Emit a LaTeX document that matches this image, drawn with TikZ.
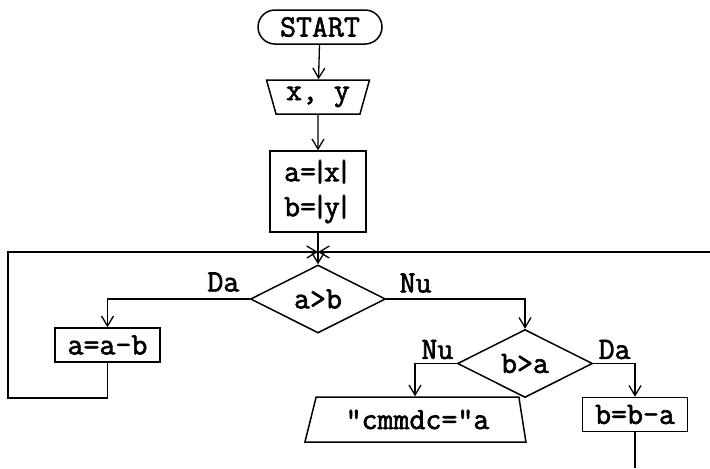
\documentclass[tikz,border=0pt]{standalone}
\usepackage{fontspec}
\newfontfamily\flowfont[FakeBold=2]{Latin Modern Mono}
\usetikzlibrary{shapes.geometric, shapes.misc, arrows.meta, positioning, calc}
\newcommand{\absv}[1]{\kern-2pt|\kern-2pt#1\kern-2pt|}
\tikzset{
  base/.style={draw, line width=0.75pt, inner sep=0pt, font=\flowfont\fontsize{15.5}{17.5}\selectfont},
  term/.style={base, rounded rectangle, minimum width=62pt, minimum height=17pt},
  inbox/.style={base, trapezium, shape border rotate=180, trapezium left angle=65, trapezium right angle=65,
    trapezium stretches body, minimum width=51.5pt, minimum height=17pt},
  outbox/.style={base, trapezium, trapezium left angle=60, trapezium right angle=70,
    trapezium stretches body, minimum width=110.5pt, minimum height=22.5pt},
  proc/.style={base, rectangle, minimum width=52.5pt, minimum height=17pt},
  decision/.style={base, diamond, aspect=2, minimum width=67.5pt, minimum height=34pt},
  lbl/.style={inner sep=0pt, font=\flowfont\fontsize{15.5}{16}\selectfont},
  flow/.style={line width=0.65pt, -{Straight Barb[length=5pt, width=6pt]}},
  link/.style={line width=0.65pt}
}
\begin{document}
\begin{tikzpicture}[x=0.5pt, y=-0.5pt]
  \useasboundingbox (0,0) rectangle (710,468);

  % main column
  \node[term] (start) at (320,27) {START};
  \node[inbox] (input) at (318,97) {x, y};
  \node[proc, minimum width=48pt, minimum height=40.5pt, align=center] (abs) at (318,191.5)
    {a=\absv{x}\\b=\absv{y}};
  \coordinate (jn) at (318,252);

  % decisions
  \node[decision] (cmpab) at (318,299) {a>b};
  \node[decision] (cmpba) at (525,363.5) {b>a};

  % branches
  \node[proc] (suba) at (107.5,345) {a=a-b};
  \node[proc] (subb) at (635,414.5) {b=b-a};
  \node[outbox] (result) at (417.5,419.5) {"cmmdc="a};

  % loop ends
  \coordinate (loopL) at (8,398);
  \coordinate (loopR) at (710,252);
  \coordinate (exitB) at (635,468);

  % labels
  \node[lbl, anchor=south east, xshift=-5pt, yshift=3.5pt] at (cmpab.west) {Da};
  \node[lbl, anchor=south west, xshift=6.5pt, yshift=3pt] at (cmpab.east) {Nu};
  \node[lbl, anchor=south east, xshift=-1.5pt, yshift=2pt] at (cmpba.west) {Nu};
  \node[lbl, anchor=south west, xshift=2.5pt, yshift=2pt] at (cmpba.east) {Da};

  % connectors
  \draw[flow] (start) -- (input);
  \draw[flow] (input) -- (abs);
  \draw[link] (abs) -- (jn);
  \draw[flow] (jn) -- (cmpab.north);
  \draw[flow] (cmpab.west) -| (suba.north);
  \draw[flow] (cmpab.east) -| (cmpba.north);
  \draw[flow] (cmpba.west) -| ($(result.north)+(-2.5,0)$);
  \draw[flow] (cmpba.east) -| (subb.north);
  \draw[flow] (suba.south) |- (loopL) |- (jn);
  \draw[flow] (loopR) -- (jn);
  \draw[link] (subb.south) -- (exitB);
\end{tikzpicture}
\end{document}
